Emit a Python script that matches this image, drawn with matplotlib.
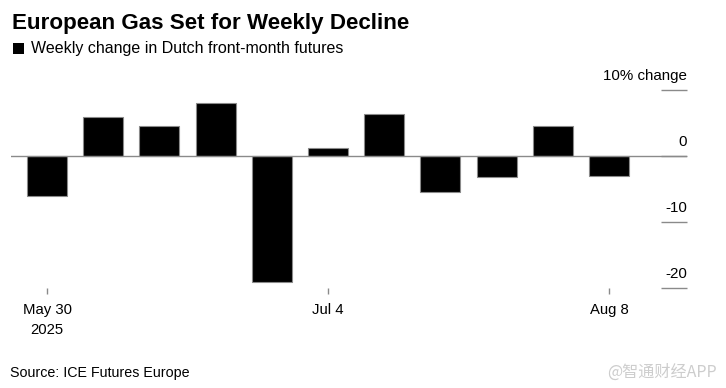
import matplotlib
matplotlib.use("Agg")
import matplotlib.pyplot as plt
import matplotlib.transforms as mtransforms
from matplotlib.patches import Rectangle

plt.rcParams['font.family'] = ['Liberation Sans', 'DejaVu Sans']

# ---- data ----
weeks = ["May 30", "Jun 6", "Jun 13", "Jun 20", "Jun 27", "Jul 4",
         "Jul 11", "Jul 18", "Jul 25", "Aug 1", "Aug 8"]
weekly_change = [-6.0, 5.9, 4.6, 8.1, -19.1, 1.2, 6.3, -5.5, -3.2, 4.6, -3.0]
xtick_idx = [0, 5, 10]
xtick_labels = ["May 30\n2025", "Jul 4", "Aug 8"]
ytick_vals = [10, 0, -10, -20]
ytick_labels = ["10% change", "0", "-10", "-20"]

title = "European Gas Set for Weekly Decline"
subtitle = "Weekly change in Dutch front-month futures"
source = "Source: ICE Futures Europe"
watermark = "@智通财经APP"

W, H = 726, 388
fig = plt.figure(figsize=(W / 100, H / 100), dpi=100)
fig.patch.set_facecolor("white")

# axes placed in pixel geometry
left_px, right_px, top_px, bot_px = 11, 687, 90, 288.3
ax = fig.add_axes([left_px / W, 1 - bot_px / H, (right_px - left_px) / W, (bot_px - top_px) / H])
ax.set_facecolor("none")

x = list(range(len(weeks)))
ax.bar(x, weekly_change, width=0.71, color="black", edgecolor="#8a8a8a",
       linewidth=0.8, zorder=2)
ax.axhline(0, color="#8a8a8a", linewidth=1.0, zorder=3)

ax.set_xlim(-0.6406, 11.388)
ax.set_ylim(-20, 10)

for s in ax.spines.values():
    s.set_visible(False)

# x ticks
ax.set_xticks(xtick_idx)
ax.set_xticklabels(xtick_labels, fontsize=10.7, linespacing=1.6)
ax.tick_params(axis="x", direction="out", length=4.3, width=1.0,
               color="#8a8a8a", pad=6.2)

# y ticks on the right, drawn as inward lines
ax.yaxis.tick_right()
ax.set_yticks(ytick_vals)
ax.set_yticklabels([])
ax.tick_params(axis="y", direction="in", length=18.7, width=1.0,
               color="#8a8a8a", right=True, left=False)

trans = mtransforms.blended_transform_factory(ax.transAxes, ax.transData)
trans = mtransforms.offset_copy(trans, fig=fig, x=0, y=10, units="dots")
for v, lab in zip(ytick_vals, ytick_labels):
    ax.text(1.0, v, lab, transform=trans, ha="right", va="baseline",
            fontsize=10.9, color="black")

# titles
fig.text(12 / W, 1 - 28.5 / H, title, fontsize=16.1, fontweight="bold",
         ha="left", va="baseline")
fig.patches.append(Rectangle((13 / W, 1 - 54 / H), 11 / W, 10.5 / H,
                             transform=fig.transFigure, facecolor="black",
                             edgecolor="none"))
fig.text(31 / W, 1 - 53.5 / H, subtitle, fontsize=11.55, ha="left", va="baseline")
fig.text(10 / W, 1 - 377 / H, source, fontsize=10.3, ha="left", va="baseline")
fig.text(717 / W, 1 - 377 / H, watermark, fontsize=11.6, ha="right",
         va="baseline", color="#cdcdcd",
         family=["Noto Sans CJK SC", "DejaVu Sans"])

fig.savefig("out.png", dpi=100)
